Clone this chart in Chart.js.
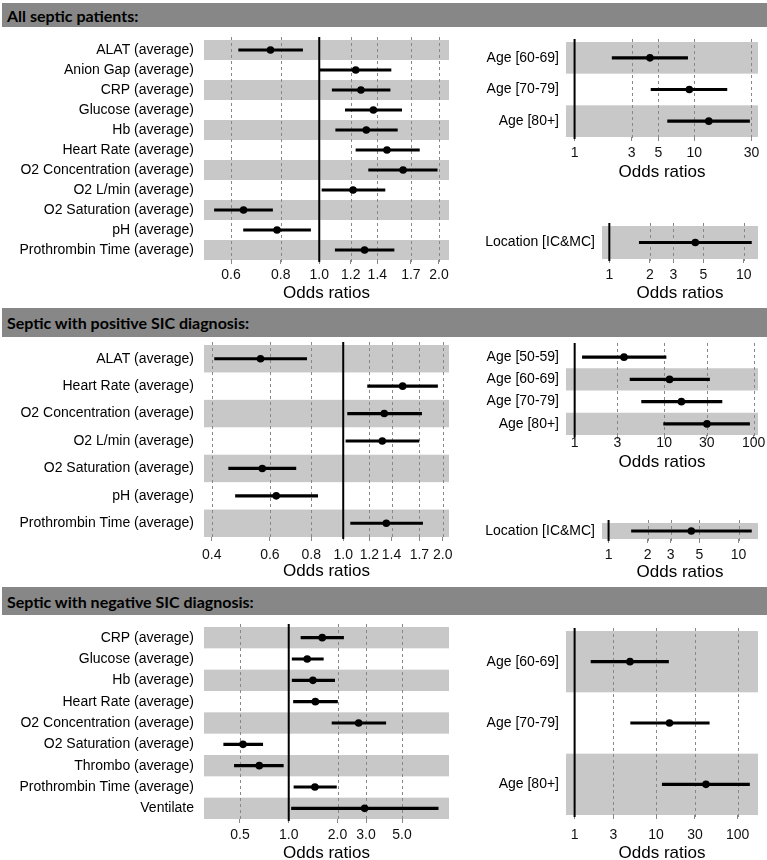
<!DOCTYPE html>
<html><head><meta charset="utf-8">
<script src="https://cdn.jsdelivr.net/npm/chart.js@4.4.1/dist/chart.umd.min.js"></script>
<style>
html,body{margin:0;padding:0;background:#fff;width:767px;height:860px;overflow:hidden;position:relative;}
.hdr{position:absolute;left:2px;width:765px;background:#878787;color:#000;font-family:Lato,'Liberation Sans',sans-serif;font-weight:700;font-size:16px;box-sizing:border-box;padding-left:5px;display:flex;align-items:center;}
.pn{position:absolute;}
</style></head><body>
<div class="hdr" style="top:3px;height:24px">All septic patients:</div>
<div class="hdr" style="top:308px;height:29px">Septic with positive SIC diagnosis:</div>
<div class="hdr" style="top:587px;height:28px">Septic with negative SIC diagnosis:</div>
<script>
// ---- Section 1: All septic patients ----
const sec1Labels = ['ALAT (average)','Anion Gap (average)','CRP (average)','Glucose (average)','Hb (average)','Heart Rate (average)','O2 Concentration (average)','O2 L/min (average)','O2 Saturation (average)','pH (average)','Prothrombin Time (average)'];
const sec1OR   = [0.754, 1.235, 1.273, 1.368, 1.313, 1.48, 1.625, 1.216, 0.645, 0.783, 1.30];
const sec1Low  = [0.627, 1.004, 1.078, 1.163, 1.10, 1.237, 1.331, 1.016, 0.545, 0.645, 1.097];
const sec1High = [0.908, 1.515, 1.507, 1.612, 1.572, 1.786, 1.98, 1.463, 0.763, 0.951, 1.542];
const sec1Ticks = [0.6, 0.8, 1.0, 1.2, 1.4, 1.7, 2.0];
const sec1TickLabels = ['0.6','0.8','1.0','1.2','1.4','1.7','2.0'];

const sec1AgeLabels = ['Age [60-69]','Age [70-79]','Age [80+]'];
const sec1AgeOR   = [4.26, 9.08, 13.2];
const sec1AgeLow  = [2.06, 4.35, 5.98];
const sec1AgeHigh = [8.79, 18.7, 28.9];
const sec1AgeTicks = [1, 3, 5, 10, 30];
const sec1AgeTickLabels = ['1','3','5','10','30'];

const sec1LocLabels = ['Location [IC&MC]'];
const sec1LocOR   = [4.36];
const sec1LocLow  = [1.67];
const sec1LocHigh = [11.4];
const sec1LocTicks = [1, 2, 3, 5, 10];
const sec1LocTickLabels = ['1','2','3','5','10'];

// ---- Section 2: positive SIC ----
const sec2Labels = ['ALAT (average)','Heart Rate (average)','O2 Concentration (average)','O2 L/min (average)','O2 Saturation (average)','pH (average)','Prothrombin Time (average)'];
const sec2OR   = [0.562, 1.513, 1.331, 1.313, 0.569, 0.627, 1.35];
const sec2Low  = [0.408, 1.185, 1.031, 1.019, 0.45, 0.472, 1.053];
const sec2High = [0.775, 1.93, 1.727, 1.695, 0.719, 0.837, 1.739];
const sec2Ticks = [0.4, 0.6, 0.8, 1.0, 1.2, 1.4, 1.7, 2.0];
const sec2TickLabels = ['0.4','0.6','0.8','1.0','1.2','1.4','1.7','2.0'];

const sec2AgeLabels = ['Age [50-59]','Age [60-69]','Age [70-79]','Age [80+]'];
const sec2AgeOR   = [3.56, 11.5, 15.6, 30.1];
const sec2AgeLow  = [1.22, 4.16, 5.6, 9.87];
const sec2AgeHigh = [10.5, 32.2, 44.3, 90.2];
const sec2AgeTicks = [1, 3, 10, 30, 100];
const sec2AgeTickLabels = ['1','3','10','30','100'];

const sec2LocLabels = ['Location [IC&MC]'];
const sec2LocOR   = [4.33];
const sec2LocLow  = [1.50];
const sec2LocHigh = [12.55];
const sec2LocTicks = [1, 2, 3, 5, 10];
const sec2LocTickLabels = ['1','2','3','5','10'];

// ---- Section 3: negative SIC ----
const sec3Labels = ['CRP (average)','Glucose (average)','Hb (average)','Heart Rate (average)','O2 Concentration (average)','O2 Saturation (average)','Thrombo (average)','Prothrombin Time (average)','Ventilate'];
const sec3OR   = [1.61, 1.30, 1.41, 1.46, 2.70, 0.522, 0.658, 1.45, 2.94];
const sec3Low  = [1.19, 1.05, 1.05, 1.07, 1.85, 0.397, 0.462, 1.077, 1.04];
const sec3High = [2.18, 1.635, 1.92, 2.0, 3.97, 0.691, 0.926, 1.97, 8.36];
const sec3Ticks = [0.5, 1.0, 2.0, 3.0, 5.0];
const sec3TickLabels = ['0.5','1.0','2.0','3.0','5.0'];

const sec3AgeLabels = ['Age [60-69]','Age [70-79]','Age [80+]'];
const sec3AgeOR   = [4.78, 14.6, 40.9];
const sec3AgeLow  = [1.59, 4.87, 11.9];
const sec3AgeHigh = [14.2, 44.9, 140];
const sec3AgeTicks = [1, 3, 10, 30, 100];
const sec3AgeTickLabels = ['1','3','10','30','100'];

const FAMILY = "'Liberation Sans', Arial, sans-serif";

const bandPlugin = {
  id: 'bands',
  beforeDatasetsDraw(chart) {
    const {ctx, chartArea: a, scales: {x, y}} = chart;
    const n = chart.data.labels.length;
    const rowH = a.height / n;
    ctx.save();
    ctx.fillStyle = '#c8c8c8';
    for (let i = 0; i < n; i++) {
      if ((n - 1 - i) % 2 === 0) {
        const c = y.getPixelForValue(i);
        ctx.fillRect(a.left, c - rowH / 2, a.width, rowH);
      }
    }
    ctx.strokeStyle = '#888';
    ctx.lineWidth = 1;
    ctx.setLineDash([3, 3]);
    x.ticks.forEach(t => {
      if (t.value === 1) return;
      const px = Math.round(x.getPixelForValue(t.value)) + 0.5;
      ctx.beginPath(); ctx.moveTo(px, a.top - 3); ctx.lineTo(px, a.bottom + 2); ctx.stroke();
    });
    ctx.setLineDash([]);
    ctx.strokeStyle = '#000';
    ctx.lineWidth = 2;
    const p1 = x.getPixelForValue(1);
    ctx.beginPath(); ctx.moveTo(p1, a.top - 3); ctx.lineTo(p1, a.bottom + 2); ctx.stroke();
    ctx.restore();
  }
};

function panel(cfg) {
  const left = Math.floor(cfg.x0 - cfg.labelW);
  const top = Math.floor(cfg.y0 - 6);
  const padR = 9;
  const width = Math.ceil(cfg.x1 + padR) - left;
  const yAxisW = cfg.x0 - left;
  const padTop = cfg.y0 - top;
  const axisH = cfg.titleOff + 10.2;
  const height = Math.ceil(cfg.y1 + axisH) - top;
  const padBottom = height - (cfg.y1 + axisH - top);
  const wrap = document.createElement('div');
  wrap.className = 'pn';
  wrap.style.left = left + 'px'; wrap.style.top = top + 'px';
  wrap.style.width = width + 'px'; wrap.style.height = height + 'px';
  const cv = document.createElement('canvas');
  cv.width = width; cv.height = height;
  cv.style.width = width + 'px'; cv.style.height = height + 'px';
  wrap.appendChild(cv);
  document.body.appendChild(wrap);
  new Chart(cv, {
    type: 'bar',
    data: {
      labels: cfg.labels,
      datasets: [
        { type: 'bar', data: cfg.low.map((l, i) => [l, cfg.high[i]]), backgroundColor: '#000', barThickness: 2.5, borderWidth: 0, order: 2 },
        { type: 'line', data: cfg.or, showLine: false, pointRadius: 3.8, pointBackgroundColor: '#000', pointBorderWidth: 0, order: 1 }
      ]
    },
    options: {
      indexAxis: 'y', responsive: false, animation: false, devicePixelRatio: 1,
      layout: { padding: { left: 0, top: padTop, right: (left + width) - cfg.x1, bottom: padBottom } },
      plugins: { legend: { display: false }, tooltip: { enabled: false } },
      scales: {
        y: {
          type: 'category',
          grid: { display: false, drawTicks: false }, border: { display: false },
          ticks: { padding: cfg.labelPad, color: '#000', font: { size: 14, family: FAMILY } },
          afterFit(s) { s.width = yAxisW; s.paddingTop = 0; s.paddingBottom = 0; }
        },
        x: {
          type: 'logarithmic', min: cfg.min, max: cfg.max,
          grid: { display: true, drawOnChartArea: false, drawTicks: true, tickLength: 4, color: '#888' },
          border: { display: false },
          afterBuildTicks(s) { s.ticks = cfg.ticks.map(v => ({ value: v })); },
          ticks: { padding: cfg.tickOff - 4 - 8.4, color: '#111', font: { size: 14, family: FAMILY }, maxRotation: 0, minRotation: 0, autoSkip: false,
                   callback: (v, i) => cfg.tickLabels[i] },
          title: { display: true, text: 'Odds ratios', font: { size: 17, family: FAMILY }, color: '#000', padding: 0 },
          afterFit(s) { s.height = axisH; s.paddingLeft = 0; s.paddingRight = 0; }
        }
      }
    },
    plugins: [bandPlugin]
  });
}

const L = { x0: 204, x1: 449, labelW: 200, labelPad: 10 };
const A = { x0: 566, x1: 758, labelW: 108, labelPad: 7 };
const C = { x0: 602, x1: 758, labelW: 120, labelPad: 7 };

panel(Object.assign({}, L, { y0: 40, y1: 260, min: 0.513, max: 2.12, tickOff: 15, titleOff: 33,
  labels: sec1Labels, or: sec1OR, low: sec1Low, high: sec1High, ticks: sec1Ticks, tickLabels: sec1TickLabels }));
panel(Object.assign({}, A, { y0: 42, y1: 137, min: 0.848, max: 34.0, tickOff: 16, titleOff: 35,
  labels: sec1AgeLabels, or: sec1AgeOR, low: sec1AgeLow, high: sec1AgeHigh, ticks: sec1AgeTicks, tickLabels: sec1AgeTickLabels }));
panel(Object.assign({}, C, { y0: 226, y1: 259, min: 0.882, max: 12.76, tickOff: 16, titleOff: 34,
  labels: sec1LocLabels, or: sec1LocOR, low: sec1LocLow, high: sec1LocHigh, ticks: sec1LocTicks, tickLabels: sec1LocTickLabels }));

panel(Object.assign({}, L, { y0: 345, y1: 537, min: 0.379, max: 2.09, tickOff: 18, titleOff: 34.5,
  labels: sec2Labels, or: sec2OR, low: sec2Low, high: sec2High, ticks: sec2Ticks, tickLabels: sec2TickLabels }));
panel(Object.assign({}, A, { y0: 346, y1: 435, min: 0.80, max: 112, tickOff: 8.5, titleOff: 27,
  labels: sec2AgeLabels, or: sec2AgeOR, low: sec2AgeLow, high: sec2AgeHigh, ticks: sec2AgeTicks, tickLabels: sec2AgeTickLabels }));
panel(Object.assign({}, C, { y0: 523, y1: 539, min: 0.89, max: 14.1, tickOff: 16, titleOff: 33.5,
  labels: sec2LocLabels, or: sec2LocOR, low: sec2LocLow, high: sec2LocHigh, ticks: sec2LocTicks, tickLabels: sec2LocTickLabels }));

panel(Object.assign({}, L, { y0: 627, y1: 819, min: 0.343, max: 9.75, tickOff: 16, titleOff: 34,
  labels: sec3Labels, or: sec3OR, low: sec3Low, high: sec3High, ticks: sec3Ticks, tickLabels: sec3TickLabels }));
panel(Object.assign({}, A, { y0: 631, y1: 815, min: 0.784, max: 178, tickOff: 20, titleOff: 38,
  labels: sec3AgeLabels, or: sec3AgeOR, low: sec3AgeLow, high: sec3AgeHigh, ticks: sec3AgeTicks, tickLabels: sec3AgeTickLabels }));
</script>
</body></html>
